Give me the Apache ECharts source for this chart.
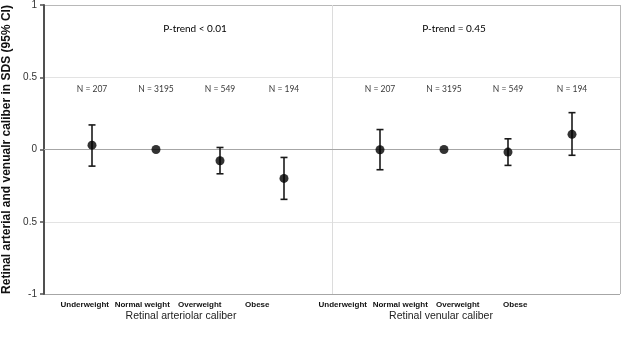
<!DOCTYPE html>
<html><head><meta charset="utf-8">
<script src="https://cdn.jsdelivr.net/npm/echarts@6/dist/echarts.min.js"></script>
<style>html,body{margin:0;padding:0;background:#fff}#c{width:625px;height:341px}</style>
</head><body><div id="c"></div>
<script>
// ---- data ----
const categories = ['Underweight', 'Normal weight', 'Overweight', 'Obese'];
const nCounts = ['N = 207', 'N = 3195', 'N = 549', 'N = 194'];
const arteriolarEst = [0.03, 0.0, -0.078, -0.20];
const arteriolarLow = [-0.115, null, -0.168, -0.345];
const arteriolarHigh = [0.17, null, 0.014, -0.055];
const venularEst = [-0.002, 0.0, -0.018, 0.105];
const venularLow = [-0.14, null, -0.11, -0.04];
const venularHigh = [0.138, null, 0.074, 0.255];
const panelTitles = ['Retinal arteriolar caliber', 'Retinal venular caliber'];
const pTrends = ['P-trend < 0.01', 'P-trend = 0.45'];
const yTickLabels = {'-1': '-1', '-0.5': '0.5', '0': '0', '0.5': '0.5', '1': '1'};
const yTitle = 'Retinal arterial and venualr caliber in SDS (95% CI)';

// ---- layout/style ----
const TOP = 5, H = 289;
const N_LEVEL = 0.42;
const chart = echarts.init(document.getElementById('c'), null, {renderer: 'canvas'});

function errSeries(gi, low, high) {
  return {
    type: 'custom', xAxisIndex: gi, yAxisIndex: gi, silent: true,
    data: categories.map((c, i) => [i, low[i], high[i]]),
    renderItem: function (params, api) {
      const lo = api.value(1), hi = api.value(2);
      if (lo == null || hi == null || isNaN(lo) || isNaN(hi)) return null;
      const a = api.coord([api.value(0), lo]);
      const b = api.coord([api.value(0), hi]);
      const w = 3.5;
      const st = {stroke: '#1a1a1a', lineWidth: 1.6};
      return {type: 'group', children: [
        {type: 'line', shape: {x1: a[0], y1: a[1], x2: b[0], y2: b[1]}, style: st},
        {type: 'line', shape: {x1: a[0]-w, y1: a[1], x2: a[0]+w, y2: a[1]}, style: st},
        {type: 'line', shape: {x1: b[0]-w, y1: b[1], x2: b[0]+w, y2: b[1]}, style: st}
      ]};
    }
  };
}
function pointSeries(gi, est) {
  return {type: 'scatter', xAxisIndex: gi, yAxisIndex: gi, symbolSize: 9, silent: true,
    itemStyle: {color: '#000'}, data: est.map((v, i) => [i, v]), z: 5};
}
function nSeries(gi) {
  return {type: 'scatter', xAxisIndex: gi, yAxisIndex: gi, symbolSize: 0, silent: true,
    data: nCounts.map((t, i) => ({value: [i, N_LEVEL], name: t})),
    label: {show: true, position: 'inside', formatter: p => p.name,
      fontFamily: 'Lato', fontSize: 8.5, color: '#000'}};
}
const hiddenY = gi => ({type: 'value', gridIndex: gi, min: -1, max: 1, show: false});
const dataX = gi => ({type: 'category', gridIndex: gi, data: categories, boundaryGap: true,
  axisLine: {show: false}, axisTick: {show: false}, axisLabel: {show: false}, splitLine: {show: false}});
const labelX = gi => ({type: 'category', gridIndex: gi, data: categories, boundaryGap: true,
  axisLine: {show: false}, axisTick: {show: false}, splitLine: {show: false},
  axisLabel: {show: true, interval: 0, margin: 7, fontFamily: 'Liberation Sans', fontWeight: 'bold', fontSize: 8, color: '#111'}});
const G = (left, width) => ({left: left, top: TOP, width: width, height: H, outerBoundsMode: 'none', containLabel: false});

chart.setOption({
  animation: false,
  grid: [G(44, 576), G(60, 256), G(348, 256), G(56, 230), G(314, 230)],
  xAxis: [
    {type: 'value', gridIndex: 0, min: 0, max: 2, interval: 1,
      axisLine: {show: true, lineStyle: {color: '#a6a6a6', width: 1}},
      axisTick: {show: false}, axisLabel: {show: false},
      splitLine: {show: true, lineStyle: {color: ['#a6a6a6', '#dcdcdc', '#b8b8b8'], width: 1}}},
    dataX(1), dataX(2), labelX(3), labelX(4)
  ],
  yAxis: [
    {type: 'value', gridIndex: 0, min: -1, max: 1, interval: 0.5,
      axisLine: {show: true, lineStyle: {color: '#505050', width: 2}},
      axisTick: {show: true, inside: false, length: 4, lineStyle: {color: '#505050', width: 1.5}},
      axisLabel: {fontFamily: 'Liberation Sans', fontSize: 10, color: '#333', margin: 7,
        formatter: v => yTickLabels[String(v)]},
      splitLine: {show: true, lineStyle: {color: ['#a6a6a6', '#e3e3e3', '#7f7f7f', '#e3e3e3', '#b8b8b8'], width: 1}},
      name: yTitle, nameLocation: 'middle', nameRotate: 90, nameGap: 22,
      nameTextStyle: {fontFamily: 'Liberation Sans', fontWeight: 'bold', fontSize: 12, color: '#111'}},
    hiddenY(1), hiddenY(2), hiddenY(3), hiddenY(4)
  ],
  series: [
    errSeries(1, arteriolarLow, arteriolarHigh), pointSeries(1, arteriolarEst), nSeries(1),
    errSeries(2, venularLow, venularHigh), pointSeries(2, venularEst), nSeries(2)
  ],
  graphic: [
    {type: 'text', x: 195, y: 29, style: {text: pTrends[0], fontFamily: 'Lato', fontSize: 10, fill: '#000', align: 'center', verticalAlign: 'middle'}},
    {type: 'text', x: 454, y: 29, style: {text: pTrends[1], fontFamily: 'Lato', fontSize: 10, fill: '#000', align: 'center', verticalAlign: 'middle'}},
    {type: 'text', x: 181, y: 316, style: {text: panelTitles[0], fontFamily: 'Liberation Sans', fontSize: 10.5, fill: '#222', align: 'center', verticalAlign: 'middle'}},
    {type: 'text', x: 441, y: 316, style: {text: panelTitles[1], fontFamily: 'Liberation Sans', fontSize: 10.5, fill: '#222', align: 'center', verticalAlign: 'middle'}}
  ]
});
</script></body></html>
